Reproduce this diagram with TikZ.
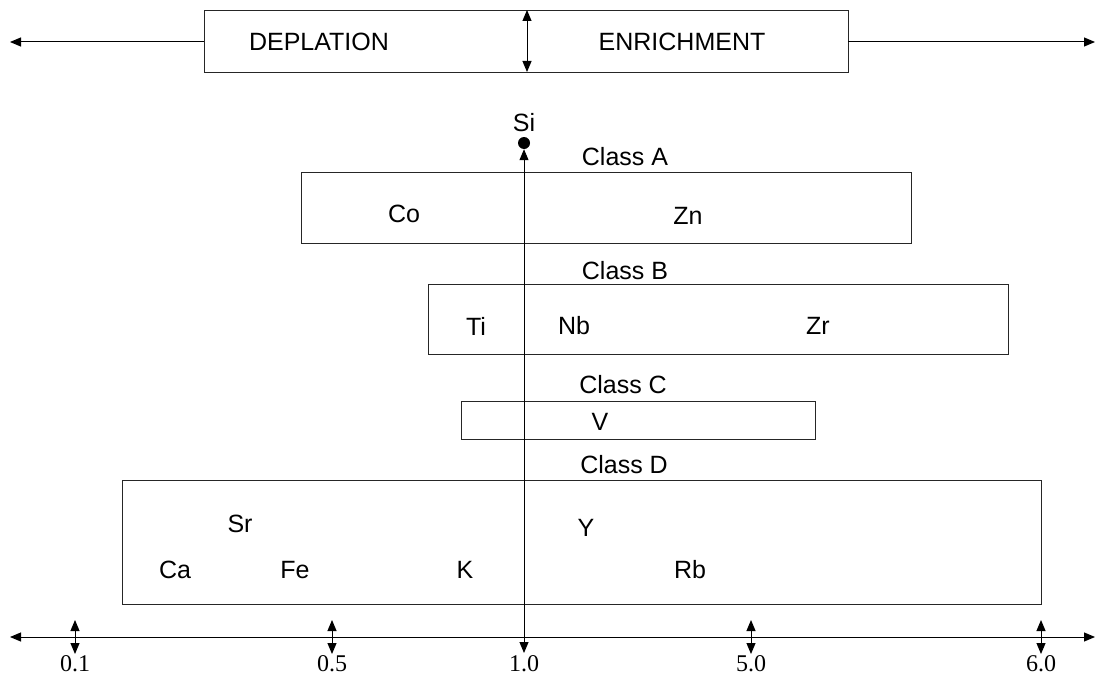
\documentclass[tikz,border=0pt]{standalone}
\usepackage{fontspec}
\setmainfont{Liberation Sans}
\newfontfamily\axisfont{Liberation Serif}
\usetikzlibrary{arrows.meta, positioning, calc}
\tikzset{
  classbox/.style ={rectangle, draw=black!85, line width=0.9pt, inner sep=0pt},
  elem/.style     ={font=\fontsize{25}{28}\selectfont, inner sep=1pt},
  arrow/.style    ={-{Triangle[length=11pt, width=9pt]}, line width=1pt, black},
  darrow/.style   ={{Triangle[length=11pt, width=9pt]}-{Triangle[length=11pt, width=9pt]},
                    line width=1pt, black},
  ticklbl/.style  ={font=\axisfont\fontsize{24}{26}\selectfont, inner sep=0pt}
}
\begin{document}
\begin{tikzpicture}[x=1pt, y=-1pt]
\useasboundingbox (0,0) rectangle (1097,677);

% Top banner
\node[classbox, minimum width=644pt, minimum height=62pt] (banner) at (526,41) {};
\node[elem] (depl) at (319,42) {DEPLATION};
\node[elem] (enr)  at (682,42) {ENRICHMENT};
\coordinate (bnL) at (10,42);
\coordinate (bnR) at (1095,42);
\draw[arrow] (banner.west |- bnL) -- (bnL);
\draw[arrow] (banner.east |- bnR) -- (bnR);
\draw[darrow] (527,10) -- (527,72);

% Classes
\node[classbox, minimum width=610pt, minimum height=71pt]  (clsA) at (606,207.5) {};
\node[classbox, minimum width=580pt, minimum height=70pt]  (clsB) at (718,319) {};
\node[classbox, minimum width=354pt, minimum height=38pt]  (clsC) at (638,420) {};
\node[classbox, minimum width=919pt, minimum height=124pt] (clsD) at (581.5,542) {};

\node[elem] (lblA) at (625,157) {Class A};
\node[elem] (lblB) at (625,271) {Class B};
\node[elem] (lblC) at (623,385) {Class C};
\node[elem] (lblD) at (624,465) {Class D};

% Elements
\node[elem] (co) at (404,214) {Co};
\node[elem] (zn) at (688,216) {Zn};
\node[elem] (ti) at (476,326) {Ti};
\node[elem] (nb) at (574,326) {Nb};
\node[elem] (zr) at (818,326) {Zr};
\node[elem] (v)  at (600,422) {V};
\node[elem] (sr) at (240,524) {Sr};
\node[elem] (y)  at (586,528) {Y};
\node[elem] (ca) at (175,570) {Ca};
\node[elem] (fe) at (295,570) {Fe};
\node[elem] (k)  at (465,570) {K};
\node[elem] (rb) at (690,570) {Rb};

% Si marker and reference line
\node[elem] (si) at (524,123) {Si};
\node[circle, fill=black, inner sep=0pt, minimum size=12pt] (sidot) at (524,143) {};

% Axis
\coordinate (axL) at (10,637);
\coordinate (axR) at (1095,637);
\draw[darrow] (axL) -- (axR);
\coordinate (one) at (524,653);
\draw[darrow] (one) -- (sidot.south);
\foreach \x in {75, 332, 751, 1041}{
  \draw[darrow] (\x,620) -- (\x,654);
}
\foreach \x/\t in {75/0.1, 332/0.5, 524/1.0, 751/5.0, 1041/6.0}{
  \node[ticklbl] (tick\x) at (\x,664) {\t};
}
\end{tikzpicture}
\end{document}
